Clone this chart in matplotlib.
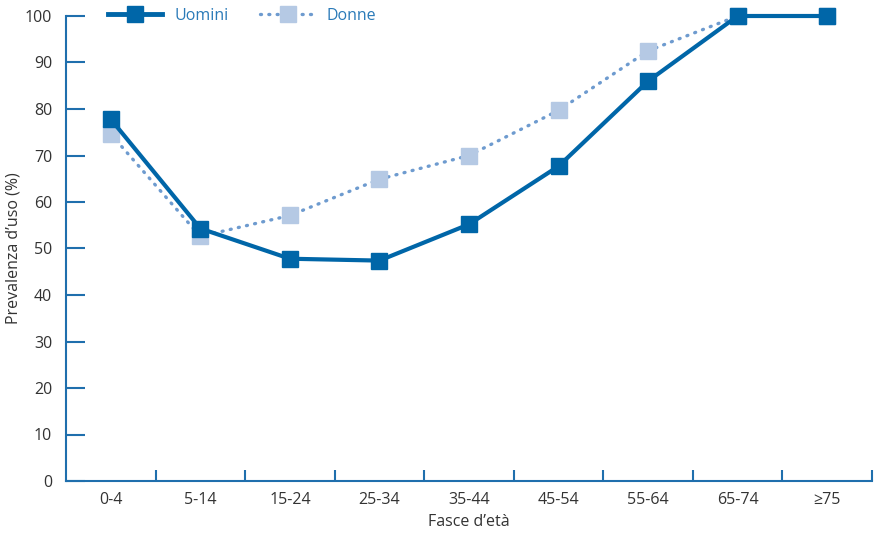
import matplotlib
matplotlib.use("Agg")
import matplotlib.pyplot as plt
from matplotlib.lines import Line2D

categories = ["0-4", "5-14", "15-24", "25-34", "35-44", "45-54", "55-64", "65-74", "≥75"]
uomini = [77.8, 54.3, 47.8, 47.4, 55.2, 67.7, 86.0, 100, 100]
donne = [74.6, 52.6, 57.1, 64.9, 70.0, 79.7, 92.5, 100, 100]
yticks = [0, 10, 20, 30, 40, 50, 60, 70, 80, 90, 100]

plt.rcParams['font.family'] = ['Open Sans', 'DejaVu Sans']

AX = '#1f6fad'
C_U = '#0066a8'
C_D_M = '#b5c9e4'
C_D_L = '#6e9bcf'
TXT = '#333333'
FS = 11.5

fig = plt.figure(figsize=(8.74, 5.36), dpi=100)
ax = fig.add_axes([66/874, 1-481/536, (872-66)/874, (481-16)/536])

x = list(range(len(categories)))
DOT = (0, (0.3, 2.2))
ax.plot(x, donne, linestyle=DOT, dash_capstyle='round', color=C_D_L, lw=2.4,
        marker='s', ms=12, mfc=C_D_M, mec=C_D_M, clip_on=False, zorder=3)
ax.plot(x, uomini, '-', color=C_U, lw=3.0, marker='s', ms=12, mfc=C_U, mec=C_U,
        clip_on=False, zorder=4)

ax.set_xlim(-0.5, len(categories) - 0.5)
ax.set_ylim(0, 100)

for s in ['top', 'right']:
    ax.spines[s].set_visible(False)
for s in ['left', 'bottom']:
    ax.spines[s].set_color(AX)
    ax.spines[s].set_linewidth(1.5)

ax.set_yticks(yticks)
ax.set_yticklabels([str(v) for v in yticks])
ax.tick_params(axis='y', direction='in', length=14, width=1.5, color=AX,
               labelsize=FS, labelcolor=TXT, pad=10)

ax.set_xticks([i + 0.5 for i in x])
ax.set_xticklabels([])
ax.tick_params(axis='x', which='major', direction='in', length=8, width=1.5, color=AX)
ax.set_xticks(x, minor=True)
ax.set_xticklabels(categories, minor=True)
ax.tick_params(axis='x', which='minor', length=0, labelsize=FS, labelcolor=TXT, pad=8)

ax.set_ylabel('Prevalenza d’uso (%)', fontsize=FS, color=TXT)
ax.yaxis.set_label_coords((14 - 66) / 806, 0.5)
ax.set_xlabel('Fasce d’età', fontsize=FS, color=TXT)
ax.xaxis.set_label_coords(0.5, (481 - 522) / 465)
ax.xaxis.label.set_verticalalignment('center')
ax.yaxis.label.set_verticalalignment('center')

handles = [
    Line2D([], [], color=C_U, lw=3.5, marker='s', ms=12, mfc=C_U, mec=C_U),
    Line2D([], [], color=C_D_L, lw=2.4, linestyle=DOT, dash_capstyle='round',
           marker='s', ms=12, mfc=C_D_M, mec=C_D_M),
]
leg = fig.legend(handles, ['Uomini', 'Donne'], loc='center left',
                 bbox_to_anchor=(108/874, 1-16/536), ncol=2, frameon=False,
                 handlelength=3.4, columnspacing=2.0, handletextpad=0.75,
                 fontsize=11.5, borderaxespad=0, borderpad=0)
for t in leg.get_texts():
    t.set_color('#2a7ab8')

fig.savefig('out.png', dpi=100)
